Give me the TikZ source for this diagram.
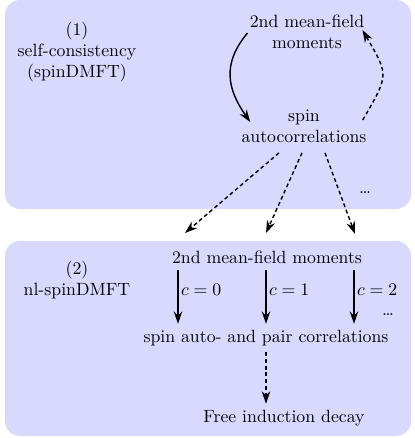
\documentclass[tikz,border=0pt]{standalone}
\usepackage{tikz}
\usetikzlibrary{calc,arrows.meta,positioning}
\definecolor{boxblue}{rgb}{0.85,0.85,1.0}

\begin{document}
\begin{tikzpicture}
    [x=0.5634pt,y=-0.5634pt,
    stage/.style={fill=boxblue,rounded corners=8.5pt},
    txt/.style={align=center},
    flow/.style={thick,-{Stealth[length=7pt,width=4.8pt]}},
    iter/.style={flow,dash pattern=on 2.2pt off 1.6pt},
    cval/.style={pos=0.38,right=-2pt}]
  \useasboundingbox (0,0) rectangle (415,438);
  \fill[stage] (5,0) rectangle (411,209);
  \fill[stage] (5,241) rectangle (411,436);
  \node[txt] (lab1) at (77,52) {(1)\\self-consistency\\(spinDMFT)};
  \node[txt] (mf1) at (307,32) {2nd mean-field\\moments};
  \node[txt] (ac1) at (304,126) {spin\\autocorrelations};
  \node (dots1) at (365,193) {\dots};
  \draw[flow] ($(mf1.west)+(4,1)$) to[out=-130,in=125,looseness=1.15] ($(ac1.west)+(15,-4)$);
  \draw[iter] ($(ac1.east)+(-10,-6)$) to[out=60,in=-60,looseness=1.5] ($(mf1.east)+(-8,-2)$);
  \node[txt] (lab2) at (77,280) {(2)\\nl-spinDMFT};
  \node (mf2) at (267,257) {2nd mean-field moments};
  \node (corr) at (266,338) {spin auto- and pair correlations};
  \node (fid) at (284,418) {Free induction decay};
  \node (dots2) at (388,315) {\dots};
  \coordinate (k0) at (178,0);
  \coordinate (k1) at (266,0);
  \coordinate (k2) at (354,0);
  \coordinate (t0) at (185,233);
  \coordinate (t1) at (266,233);
  \coordinate (t2) at (355,234);
  \draw[iter] ($(ac1.south)+(-25,4)$) -- (t0);
  \draw[iter] ($(ac1.south)+(-2,4)$) -- (t1);
  \draw[iter] ($(ac1.south)+(21,4)$) -- (t2);
  \draw[flow] (mf2.south -| k0) -- (corr.north -| k0) node[cval] {$c=0$};
  \draw[flow] (mf2.south -| k1) -- (corr.north -| k1) node[cval] {$c=1$};
  \draw[flow] (mf2.south -| k2) -- (corr.north -| k2) node[cval] {$c=2$};
  \draw[iter] (corr.south -| k1) -- (fid.north -| k1);
\end{tikzpicture}
\end{document}
